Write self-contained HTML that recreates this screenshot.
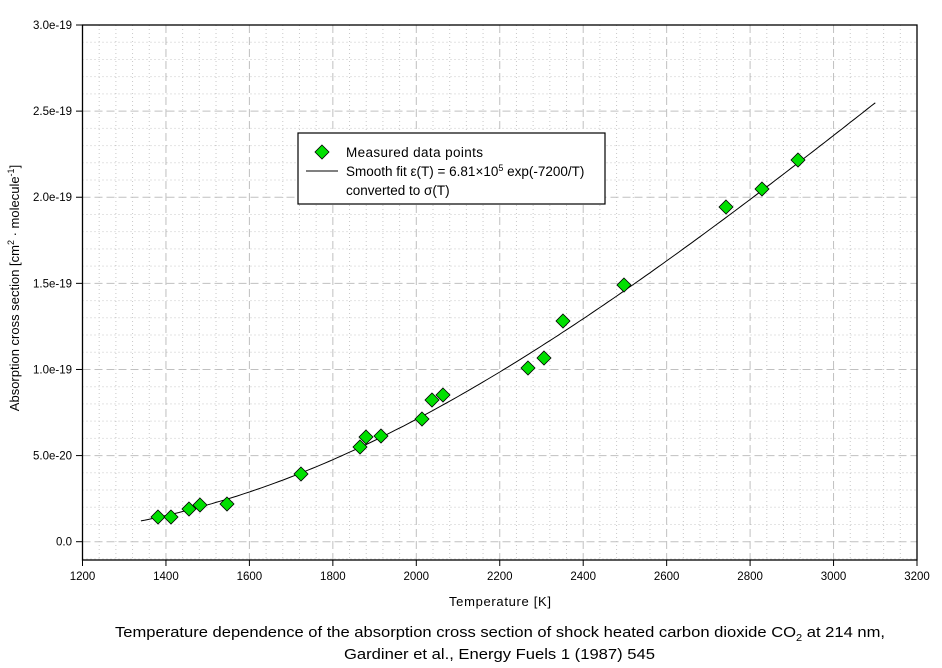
<!DOCTYPE html>
<html><head><meta charset="utf-8"><style>
html,body{margin:0;padding:0;background:#fff;width:942px;height:668px;overflow:hidden}
svg text{font-family:"Liberation Sans",sans-serif;fill:#000}
</style></head><body>
<svg width="942" height="668" xmlns="http://www.w3.org/2000/svg">
<g id="grid"></g>
<rect x="82.5" y="25" width="834.5" height="535" fill="none" stroke="#000" stroke-width="1.3"/>
<g id="ticks" stroke="#000" stroke-width="1"></g>
<g id="labels" font-size="11.5"></g>
<path id="fit" fill="none" stroke="#000" stroke-width="1"/>
<g id="pts"></g>
<rect x="298" y="133" width="307" height="71" fill="#fff" stroke="#000" stroke-width="1.2"/>
<path d="M322 145 L329 152 L322 159 L315 152 Z" fill="#00e000" stroke="#000" stroke-width="0.8"/>
<line x1="306" y1="171" x2="338" y2="171" stroke="#000"/>
<text x="346" y="157" font-size="13.5" textLength="137">Measured data points</text>
<text x="346" y="176" font-size="13.5">Smooth fit ε(T) = 6.81×10<tspan font-size="9" dy="-5">5</tspan><tspan dy="5"> exp(-7200/T)</tspan></text>
<text x="346" y="195" font-size="13.5">converted to σ(T)</text>
<text x="500" y="606" font-size="13" text-anchor="middle" textLength="102">Temperature [K]</text>
<text x="115" y="637" font-size="15" textLength="770" lengthAdjust="spacingAndGlyphs">Temperature dependence of the absorption cross section of shock heated carbon dioxide CO<tspan font-size="10" dy="4">2</tspan><tspan dy="-4"> at 214 nm,</tspan></text>
<text x="344" y="659" font-size="15" textLength="311" lengthAdjust="spacingAndGlyphs">Gardiner et al., Energy Fuels 1 (1987) 545</text>
<text transform="translate(19,288) rotate(-90)" font-size="13" text-anchor="middle">Absorption cross section [cm<tspan font-size="9" dy="-5">2</tspan><tspan dy="5"> · molecule</tspan><tspan font-size="9" dy="-5">-1</tspan><tspan dy="5">]</tspan></text>
</svg>
<script>
const ns="http://www.w3.org/2000/svg";
const X=t=>82.5+(t-1200)*834.5/2000, Y=v=>541.7-v*(516.7/3e-19);
function el(p,tag,a){const e=document.createElementNS(ns,tag);for(const k in a)e.setAttribute(k,a[k]);document.getElementById(p).appendChild(e);return e;}
for(let t=1240;t<3200;t+=40){const maj=(t%200===0);el('grid','line',{x1:X(t),x2:X(t),y1:25,y2:560,stroke:maj?'#c0c0c0':'#c8c8c8','stroke-width':1,'stroke-dasharray':maj?'8,4':'1,3'});}
for(let i=-1;i<30;i++){const v=i*1e-20;const y=Y(v);if(y<=26)continue;const maj=(i%5===0);el('grid','line',{x1:82.5,x2:917,y1:y,y2:y,stroke:maj?'#c0c0c0':'#c8c8c8','stroke-width':1,'stroke-dasharray':maj?'8,4':'1,3'});}
for(let t=1200;t<=3200;t+=200){el('ticks','line',{x1:X(t),x2:X(t),y1:560,y2:566});const tx=el('labels','text',{x:X(t),y:580,'text-anchor':'middle'});tx.textContent=t;}
const yl=['0.0','5.0e-20','1.0e-19','1.5e-19','2.0e-19','2.5e-19','3.0e-19'];
for(let i=0;i<=6;i++){const y=Y(i*5e-20);el('ticks','line',{x1:76,x2:82.5,y1:y,y2:y});const tx=el('labels','text',{x:72,y:y+4,'text-anchor':'end'});tx.textContent=yl[i];}
let d='';for(let t=1340;t<=3100;t+=10){const v=2.6e-18*Math.exp(-7200/t);d+=(d?'L':'M')+X(t).toFixed(1)+' '+Y(v).toFixed(1);}
document.getElementById('fit').setAttribute('d',d);
const P=[[158,517],[171,517],[189,509],[200,505],[227,504],[301,474],[360,447],[366,437],[381,436],[422,419],[432,400],[443,395],[528,368],[544,358],[563,321],[624,285],[726,207],[762,189],[798,160]];
for(const [x,y] of P){el('pts','path',{d:`M${x} ${y-7}L${x+7} ${y}L${x} ${y+7}L${x-7} ${y}Z`,fill:'#00e000',stroke:'#000','stroke-width':0.8});}
</script>
</body></html>
